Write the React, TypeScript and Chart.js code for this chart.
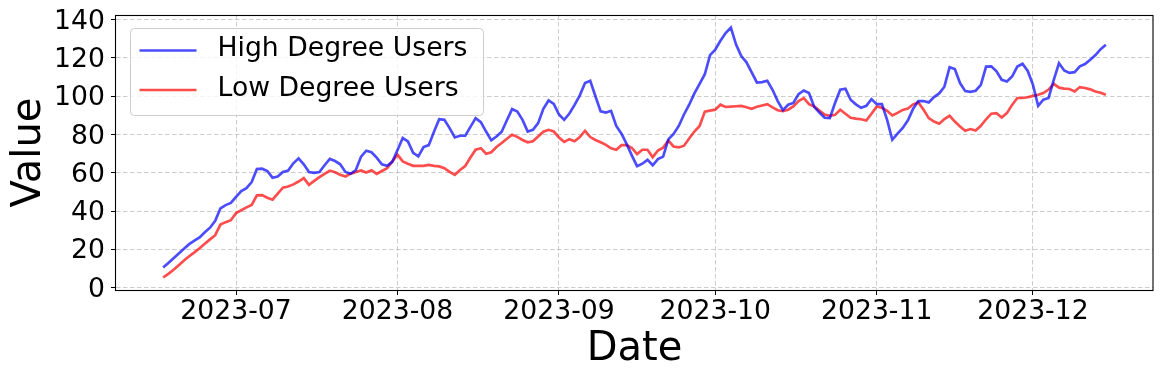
import React, { useEffect, useRef } from 'react';
import { Chart, registerables } from 'chart.js';

Chart.register(...registerables);

// ---------- data ----------
const START_DATE = '2023-06-17';

const HIGH_DEGREE_USERS = [
  10.6, 13.0, 15.5, 17.9, 20.4, 22.8, 24.6, 26.3, 29.0, 31.4,
  35.0, 41.5, 43.2, 44.3, 47.5, 50.5, 52.0, 55.2, 62.0, 62.2,
  61.0, 57.5, 58.1, 60.5, 61.2, 65.0, 67.6, 64.5, 60.5, 60.0,
  60.5, 64.0, 67.3, 66.2, 64.5, 60.5, 59.5, 61.5, 68.5, 71.6,
  70.8, 68.0, 64.5, 63.7, 65.8, 72.0, 78.2, 76.4, 70.5, 68.6,
  73.5, 74.5, 81.5, 88.0, 87.7, 83.4, 78.5, 79.4, 79.4, 84.0,
  88.6, 86.5, 81.6, 77.0, 79.0, 81.5, 87.5, 93.3, 92.0, 87.7,
  81.6, 82.5, 86.0, 93.5, 97.8, 96.0, 90.5, 87.7, 91.0, 95.5,
  100.5, 106.9, 108.1, 100.0, 92.1, 91.5, 92.4, 84.5, 80.5, 75.0,
  69.0, 63.5, 64.8, 66.8, 64.0, 67.2, 68.5, 77.5, 80.3, 84.5,
  90.5, 95.6, 101.5, 106.5, 111.5, 121.5, 124.3, 129.0, 133.0, 135.9,
  127.0, 121.0, 117.7, 112.5, 107.2, 107.4, 108.1, 103.4, 97.5, 92.8,
  95.6, 96.5, 101.1, 103.0, 101.7, 94.5, 91.5, 88.8, 88.6, 96.5,
  103.4, 103.9, 98.2, 95.8, 94.0, 95.0, 98.5, 95.9, 95.9, 87.7,
  77.3, 80.5, 83.5, 87.5, 93.5, 97.5, 97.5, 96.8, 99.6, 101.5,
  105.0, 115.2, 114.2, 106.9, 102.7, 102.3, 102.9, 106.0, 115.5, 115.6,
  113.0, 108.6, 107.7, 110.3, 115.5, 117.0, 113.2, 106.0, 95.0, 98.2,
  99.1, 108.5, 117.3, 113.5, 112.2, 112.6, 115.6, 116.8, 119.1, 121.5,
  124.6, 126.9,
];

const LOW_DEGREE_USERS = [
  5.4, 7.3, 9.4, 11.8, 14.3, 16.5, 18.5, 20.7, 23.0, 25.3,
  27.5, 33.0, 34.3, 35.3, 39.0, 40.5, 42.0, 43.3, 48.3, 48.4,
  47.0, 46.0, 49.2, 52.3, 52.9, 54.0, 55.5, 57.3, 53.8, 55.8,
  57.8, 59.5, 61.2, 60.3, 59.0, 58.1, 59.6, 60.5, 61.3, 60.2,
  61.4, 59.5, 61.0, 62.5, 66.0, 69.5, 66.0, 64.8, 63.7, 63.7,
  63.7, 64.2, 63.7, 63.4, 62.5, 60.5, 59.0, 61.5, 63.6, 68.0,
  72.1, 72.9, 70.0, 70.8, 73.5, 75.6, 77.8, 79.9, 78.8, 77.2,
  76.0, 76.5, 79.0, 81.5, 82.5, 81.6, 78.5, 76.2, 77.6, 76.5,
  78.7, 82.0, 78.7, 77.2, 76.0, 74.6, 72.8, 72.1, 74.5, 74.5,
  73.0, 69.8, 72.1, 72.1, 68.2, 71.7, 73.2, 76.9, 73.8, 73.3,
  74.2, 78.0, 81.6, 84.5, 92.0, 92.5, 93.0, 95.6, 94.4, 94.6,
  94.8, 95.0, 94.3, 93.5, 94.5, 95.2, 95.9, 94.2, 92.7, 92.2,
  93.0, 94.7, 97.5, 99.0, 95.9, 94.7, 92.5, 90.5, 89.8, 90.3,
  93.0, 90.9, 88.8, 88.3, 88.0, 87.3, 90.9, 94.7, 94.0, 92.4,
  90.0, 91.3, 92.9, 93.6, 95.8, 96.8, 93.0, 88.6, 86.8, 85.7,
  88.1, 89.8, 86.8, 84.2, 82.0, 82.9, 82.1, 84.6, 88.0, 90.9,
  91.2, 88.9, 91.2, 95.5, 99.1, 99.1, 99.5, 100.2, 100.8, 101.7,
  103.5, 106.5, 104.5, 104.0, 103.8, 102.5, 104.8, 104.3, 103.6, 102.5,
  101.8, 100.8,
];

const SERIES_LABELS = ['High Degree Users', 'Low Degree Users'];
const SERIES_COLORS = ['rgba(0, 0, 255, 0.7)', 'rgba(255, 0, 0, 0.7)'];

const MONTH_TICKS = ['2023-07-01', '2023-08-01', '2023-09-01', '2023-10-01', '2023-11-01', '2023-12-01'];
const MONTH_LABELS = ['2023-07', '2023-08', '2023-09', '2023-10', '2023-11', '2023-12'];
const Y_TICKS = [0, 20, 40, 60, 80, 100, 120, 140];

// ---------- helpers ----------
const DAY_MS = 86400000;
const toDay = (s: string) => Math.round(Date.parse(s + 'T00:00:00Z') / DAY_MS);
const START_DAY = toDay(START_DATE);
const DATES = HIGH_DEGREE_USERS.map((_, i) =>
  new Date((START_DAY + i) * DAY_MS).toISOString().slice(0, 10)
);
const X_VALUES = DATES.map(toDay);

const FONT = "'DejaVu Sans', 'Liberation Sans', sans-serif";
const TICK_SIZE = 26.67;
const TITLE_SIZE = 40;

const framePlugin = {
  id: 'frameAndLegend',
  afterDraw(chart: any) {
    const { ctx, chartArea: a } = chart;
    ctx.save();
    // spines
    ctx.strokeStyle = '#000';
    ctx.lineWidth = 1.1;
    ctx.strokeRect(a.left - 0.5, a.top + 0.5, a.right - a.left + 0.5, a.bottom - a.top);

    // legend
    const x0 = a.left + 14.5;
    const y0 = a.top + 13.5;
    const w = 353;
    const h = 87;
    ctx.beginPath();
    if (ctx.roundRect) ctx.roundRect(x0, y0, w, h, 4);
    else ctx.rect(x0, y0, w, h);
    ctx.fillStyle = 'rgba(255,255,255,0.8)';
    ctx.fill();
    ctx.strokeStyle = '#cccccc';
    ctx.lineWidth = 1;
    ctx.stroke();

    chart.data.datasets.forEach((ds: any, i: number) => {
      const y = y0 + 22 + i * 39.5;
      ctx.beginPath();
      ctx.moveTo(x0 + 9, y);
      ctx.lineTo(x0 + 66, y);
      ctx.strokeStyle = ds.borderColor;
      ctx.lineWidth = 2.67;
      ctx.lineCap = 'butt';
      ctx.stroke();
      ctx.fillStyle = '#000';
      ctx.font = `${TICK_SIZE}px ${FONT}`;
      ctx.textBaseline = 'middle';
      ctx.textAlign = 'left';
      ctx.fillText(ds.label, x0 + 87, y - 1);
    });
    ctx.restore();
  },
};

export default function App() {
  const canvasRef = useRef<HTMLCanvasElement | null>(null);

  useEffect(() => {
    if (!canvasRef.current) return;
    const allValues = [...HIGH_DEGREE_USERS, ...LOW_DEGREE_USERS];
    const yMinData = Math.min(...allValues);
    const yMaxData = Math.max(...allValues);
    const yPad = (yMaxData - yMinData) * 0.05;
    const xMinData = X_VALUES[0];
    const xMaxData = X_VALUES[X_VALUES.length - 1];
    const xPad = (xMaxData - xMinData) * 0.05;

    const series = [HIGH_DEGREE_USERS, LOW_DEGREE_USERS];

    const chart = new Chart(canvasRef.current, {
      type: 'line',
      data: {
        datasets: series.map((vals, si) => ({
          label: SERIES_LABELS[si],
          data: vals.map((v, i) => ({ x: X_VALUES[i], y: v })),
          borderColor: SERIES_COLORS[si],
          backgroundColor: SERIES_COLORS[si],
          borderWidth: 2.67,
          pointRadius: 0,
          tension: 0,
          fill: false,
        })),
      },
      options: {
        animation: false,
        responsive: false,
        devicePixelRatio: 1,
        layout: { padding: { top: 15, right: 10, bottom: 0, left: 0 } },
        plugins: {
          legend: { display: false },
          tooltip: { enabled: false },
        },
        scales: {
          x: {
            type: 'linear',
            min: xMinData - xPad,
            max: xMaxData + xPad,
            afterBuildTicks: (scale: any) => {
              scale.ticks = MONTH_TICKS.map((d) => ({ value: toDay(d) }));
            },
            afterFit: (scale: any) => {
              scale.height = 90;
              scale.paddingLeft = 0;
              scale.paddingRight = 0;
            },
            ticks: {
              autoSkip: false,
              maxRotation: 0,
              padding: 1,
              color: '#000',
              font: { family: FONT, size: TICK_SIZE },
              callback: (v: any) => {
                const idx = MONTH_TICKS.findIndex((d) => toDay(d) === v);
                return idx >= 0 ? MONTH_LABELS[idx] : '';
              },
            },
            grid: {
              color: 'rgba(176,176,176,0.65)',
              lineWidth: 1,
              tickColor: '#000',
              tickLength: 5,
              tickWidth: 1,
              tickBorderDash: [],
            },
            border: { display: false, dash: [4.5, 2.5] },
            title: {
              display: true,
              text: 'Date',
              color: '#000',
              font: { family: FONT, size: TITLE_SIZE },
              padding: { top: 0, bottom: 6 },
            },
          },
          y: {
            type: 'linear',
            min: yMinData - yPad,
            max: yMaxData + yPad,
            afterBuildTicks: (scale: any) => {
              scale.ticks = Y_TICKS.map((v) => ({ value: v }));
            },
            afterFit: (scale: any) => {
              scale.width = 116;
              scale.paddingTop = 0;
              scale.paddingBottom = 0;
            },
            ticks: {
              padding: 6,
              labelOffset: 2,
              color: '#000',
              font: { family: FONT, size: TICK_SIZE },
              callback: (v: any) => String(v),
            },
            grid: {
              color: 'rgba(176,176,176,0.65)',
              lineWidth: 1,
              tickColor: '#000',
              tickLength: 5,
              tickWidth: 1,
              tickBorderDash: [],
            },
            border: { display: false, dash: [4.5, 2.5] },
            title: {
              display: true,
              text: 'Value',
              color: '#000',
              font: { family: FONT, size: TITLE_SIZE },
              padding: { top: 6, bottom: 0 },
            },
          },
        },
      } as any,
      plugins: [framePlugin],
    });

    return () => chart.destroy();
  }, []);

  return (
    <div style={{ position: 'absolute', left: 0, top: 0, width: 1163, height: 380, background: '#fff' }}>
      <canvas ref={canvasRef} width={1163} height={380} style={{ display: 'block' }} />
    </div>
  );
}
